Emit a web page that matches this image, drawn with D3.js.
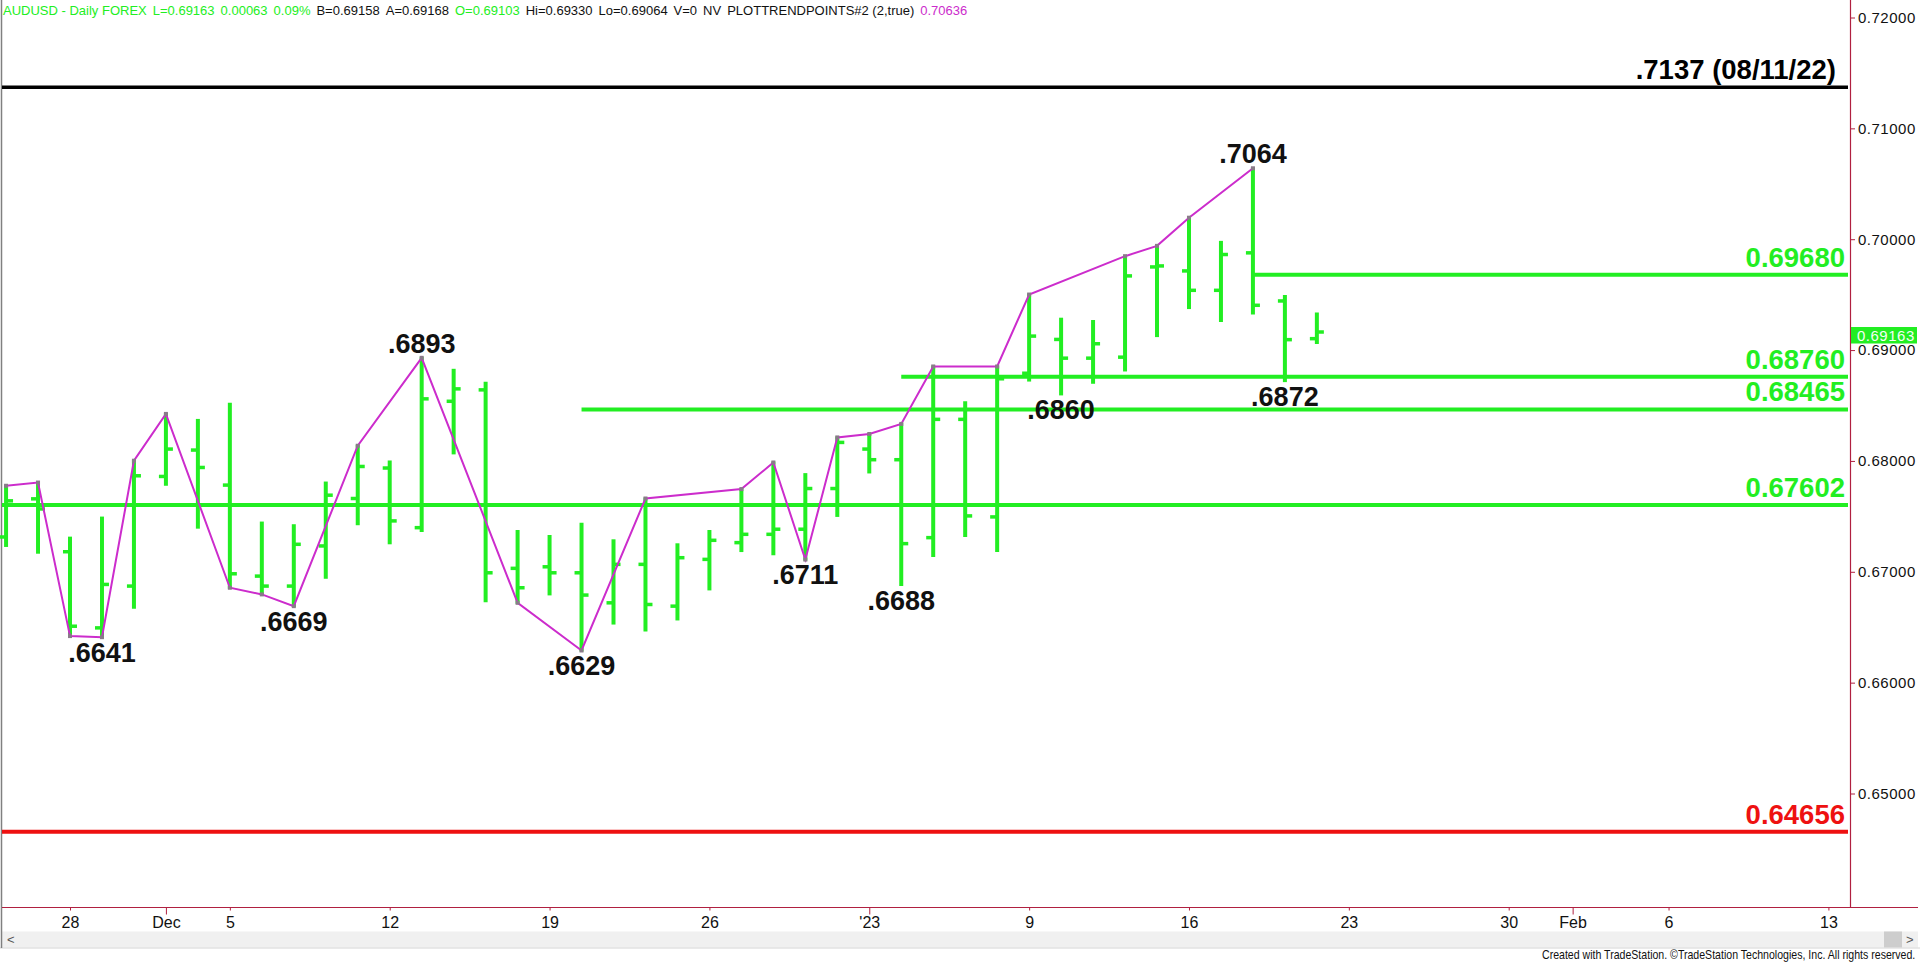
<!DOCTYPE html>
<html><head><meta charset="utf-8">
<script src="https://cdn.jsdelivr.net/npm/d3@7"></script>
<style>
html,body{margin:0;padding:0;background:#fff;overflow:hidden;}
svg{display:block;}
</style></head><body>
<svg id="chart" width="1920" height="963"></svg>
<script>
// ---------------- data ----------------
const barDates = ["2022-11-24","2022-11-25","2022-11-28","2022-11-29","2022-11-30","2022-12-01","2022-12-02",
  "2022-12-05","2022-12-06","2022-12-07","2022-12-08","2022-12-09","2022-12-12","2022-12-13","2022-12-14",
  "2022-12-15","2022-12-16","2022-12-19","2022-12-20","2022-12-21","2022-12-22","2022-12-23","2022-12-26",
  "2022-12-27","2022-12-28","2022-12-29","2022-12-30","2023-01-02","2023-01-03","2023-01-04","2023-01-05",
  "2023-01-06","2023-01-09","2023-01-10","2023-01-11","2023-01-12","2023-01-13","2023-01-16","2023-01-17",
  "2023-01-18","2023-01-19","2023-01-20"];
const opens = [0.67314,0.67658,0.67181,0.66494,0.66871,0.67860,0.68098,0.67782,0.66961,0.66871,0.67233,0.67661,
  0.67936,0.67398,0.68538,0.68641,0.67031,0.67045,0.66991,0.66720,0.67067,0.66690,0.67112,0.67263,0.67338,
  0.67384,0.67751,0.68107,0.68011,0.67308,0.68375,0.67495,0.68791,0.69096,0.68927,0.68936,0.69750,0.69714,
  0.69539,0.69877,0.69443,0.69103];
const highs = [0.67776,0.67805,0.67308,0.67489,0.68002,0.68424,0.68370,0.68515,0.67444,0.67420,0.67805,0.68137,
  0.67995,0.68930,0.68822,0.68705,0.67368,0.67323,0.67434,0.67284,0.67661,0.67248,0.67368,0.67746,0.67986,
  0.67881,0.68212,0.68243,0.68334,0.68852,0.68529,0.68852,0.69501,0.69283,0.69262,0.69847,0.69940,0.70194,
  0.69976,0.70640,0.69488,0.69330];
const lows = [0.67233,0.67172,0.66420,0.66410,0.66675,0.67785,0.67398,0.66856,0.66796,0.66690,0.66946,0.67429,
  0.67257,0.67368,0.68068,0.66735,0.66720,0.66796,0.66290,0.66533,0.66470,0.66570,0.66841,0.67187,0.67158,
  0.67110,0.67504,0.67896,0.66880,0.67142,0.67323,0.67187,0.68725,0.68600,0.68705,0.68816,0.69126,0.69379,
  0.69262,0.69329,0.68720,0.69064];
const closes = [0.67640,0.67567,0.66509,0.66886,0.67866,0.68107,0.67941,0.66982,0.66871,0.67248,0.67691,0.67950,
  0.67459,0.68560,0.68650,0.66991,0.66856,0.66991,0.66790,0.67067,0.66705,0.67127,0.67284,0.67338,0.67384,
  0.67751,0.68167,0.68011,0.67254,0.68375,0.67504,0.68741,0.69126,0.68927,0.69057,0.69669,0.69759,0.69539,
  0.69862,0.69404,0.69094,0.69163];

// trend-point (zigzag) vertices: date + which extreme of the bar
const zigDates = ["2022-11-24","2022-11-25","2022-11-28","2022-11-29","2022-11-30","2022-12-01","2022-12-05",
  "2022-12-06","2022-12-07","2022-12-09","2022-12-13","2022-12-16","2022-12-20","2022-12-22","2022-12-27",
  "2022-12-28","2022-12-29","2022-12-30","2023-01-02","2023-01-03","2023-01-04","2023-01-06","2023-01-09",
  "2023-01-12","2023-01-13","2023-01-16","2023-01-18"];
const zigSides = ["H","H","L","L","H","H","L","L","L","H","H","L","L","H","H","H","L","H","H","H","H","H","H",
  "H","H","H","H"];

// pivot annotations
const pivotTexts = [".6641",".6669",".6893",".6629",".6711",".6688",".6860",".7064",".6872"];
const pivotDates = ["2022-11-29","2022-12-07","2022-12-13","2022-12-20","2022-12-29","2023-01-03","2023-01-10",
  "2023-01-18","2023-01-19"];
const pivotSides = ["L","L","H","L","L","L","L","H","L"];

// horizontal levels
const levelValues = [0.7137, 0.69680, 0.68760, 0.68465, 0.67602, 0.64656];
const levelLabels = [".7137 (08/11/22)", "0.69680", "0.68760", "0.68465", "0.67602", "0.64656"];
const levelStartDates = [null, "2023-01-18", "2023-01-03", "2022-12-20", null, null];

// axes
const priceTicks = [0.65, 0.66, 0.67, 0.68, 0.69, 0.70, 0.71, 0.72];
const dateTickDates = ["2022-11-28","2022-12-01","2022-12-05","2022-12-12","2022-12-19","2022-12-26","2023-01-02",
  "2023-01-09","2023-01-16","2023-01-23","2023-01-30","2023-02-01","2023-02-06","2023-02-13"];
const dateTickLabels = ["28","Dec","5","12","19","26","'23","9","16","23","30","Feb","6","13"];
const lastPrice = 0.69163;

// header items
const headerTexts = ["AUDUSD - Daily FOREX","L=0.69163","0.00063","0.09%","B=0.69158","A=0.69168","O=0.69103",
  "Hi=0.69330","Lo=0.69064","V=0","NV","PLOTTRENDPOINTS#2 (2,true)","0.70636"];

// ---------------- drawing ----------------
const GREEN = "#22ee22", MAG = "#cc2ccc", AXIS = "#b02040";
const svg = d3.select("#chart");
const fmt = d3.timeFormat("%Y-%m-%d");
const days = d3.timeDay.range(new Date(2022,10,24), new Date(2023,1,16)).filter(d => d.getDay() % 6 !== 0).map(fmt);
const idx = s => days.indexOf(s);

const x = d3.scaleLinear().domain([idx("2022-11-28"), idx("2023-02-13")]).range([70, 1828.4]);
const y = d3.scaleLinear().domain([0.65, 0.72]).range([793.5, 17.5]);
const X = s => x(idx(s));

const bars = barDates.map((d, i) => ({d, o: opens[i], h: highs[i], l: lows[i], c: closes[i]}));

// frame pieces (scrollbar, borders)
svg.append("rect").attr("x", 2).attr("y", 931.5).attr("width", 1916).attr("height", 16).attr("fill", "#f0f0f0");
svg.append("rect").attr("x", 1884).attr("y", 931.5).attr("width", 18).attr("height", 16).attr("fill", "#cdcdcd");
svg.append("line").attr("x1", 0).attr("x2", 1920).attr("y1", 948).attr("y2", 948).attr("stroke", "#d4d4d4");
svg.append("text").attr("x", 7).attr("y", 944).attr("font-family", "Liberation Sans, Arial, sans-serif")
  .attr("font-size", 13).attr("fill", "#555").text("<");
svg.append("text").attr("x", 1906).attr("y", 944).attr("font-family", "Liberation Sans, Arial, sans-serif")
  .attr("font-size", 13).attr("fill", "#555").text(">");
svg.append("line").attr("x1", 1.5).attr("x2", 1.5).attr("y1", 0).attr("y2", 948).attr("stroke", "#808080").attr("stroke-width", 1.5);

// level lines
const levelColor = i => i === 0 ? "#000" : (i === levelValues.length - 1 ? "#ee1111" : GREEN);
const lv = svg.append("g");
levelValues.forEach((v, i) => {
  const x0 = levelStartDates[i] ? X(levelStartDates[i]) : 2;
  lv.append("line").attr("x1", x0).attr("x2", 1848).attr("y1", y(v)).attr("y2", y(v))
    .attr("stroke", levelColor(i)).attr("stroke-width", i === 0 ? 3.5 : 4);
  lv.append("text").attr("x", i === 0 ? 1836 : 1845).attr("y", y(v) - 8).attr("text-anchor", "end")
    .attr("font-family", "Liberation Sans, Arial, sans-serif").attr("font-weight", "bold")
    .attr("font-size", 27.5).attr("fill", levelColor(i)).text(levelLabels[i]);
});

// OHLC bars
const bg = svg.append("g").attr("stroke", GREEN);
bg.selectAll("line.hl").data(bars).join("line").attr("class", "hl")
  .attr("x1", d => X(d.d)).attr("x2", d => X(d.d)).attr("y1", d => y(d.h) - 1).attr("y2", d => y(d.l) + 1)
  .attr("stroke-width", 4);
bg.selectAll("line.op").data(bars).join("line").attr("class", "op")
  .attr("x1", d => X(d.d) - 7).attr("x2", d => X(d.d)).attr("y1", d => y(d.o)).attr("y2", d => y(d.o))
  .attr("stroke-width", 3.5);
bg.selectAll("line.cl").data(bars).join("line").attr("class", "cl")
  .attr("x1", d => X(d.d)).attr("x2", d => X(d.d) + 7).attr("y1", d => y(d.c)).attr("y2", d => y(d.c))
  .attr("stroke-width", 3.5);

// zigzag
const zig = zigDates.map((d, i) => {
  const k = barDates.indexOf(d);
  return {d, p: zigSides[i] === "H" ? highs[k] : lows[k]};
});
svg.append("path").datum(zig)
  .attr("d", d3.line().x(d => X(d.d)).y(d => y(d.p)))
  .attr("fill", "none").attr("stroke", MAG).attr("stroke-width", 2);
svg.append("g").selectAll("rect").data(zig).join("rect")
  .attr("x", d => X(d.d) - 2).attr("y", d => y(d.p) - 2).attr("width", 4).attr("height", 4).attr("fill", "#8a7a8a");

// pivot labels
pivotTexts.forEach((t, i) => {
  const k = barDates.indexOf(pivotDates[i]);
  const yy = pivotSides[i] === "H" ? y(highs[k]) - 5 : y(lows[k]) + 24.5;
  svg.append("text").attr("x", X(pivotDates[i])).attr("y", yy).attr("text-anchor", "middle")
    .attr("font-family", "Liberation Sans, Arial, sans-serif").attr("font-weight", "bold")
    .attr("font-size", 27).attr("fill", "#111").text(t);
});

// right price axis
const ya = svg.append("g").attr("transform", "translate(1851,0)")
  .call(d3.axisRight(y).tickValues(priceTicks).tickSize(4).tickPadding(3).tickFormat(d3.format(".5f")));
ya.select(".domain").remove();
ya.selectAll("line").attr("stroke", AXIS);
ya.selectAll("text").attr("font-family", "Liberation Sans, Arial, sans-serif").attr("font-size", 15)
  .attr("letter-spacing", 0.5).attr("fill", "#111");
svg.append("line").attr("x1", 1850.5).attr("x2", 1850.5).attr("y1", 0).attr("y2", 907.5)
  .attr("stroke", AXIS).attr("stroke-width", 1.2);

// last price marker
const yc = y(lastPrice);
svg.append("rect").attr("x", 1851).attr("y", yc - 5).attr("width", 66).attr("height", 16.5).attr("fill", GREEN);
svg.append("text").attr("x", 1857).attr("y", yc + 3.5).attr("dy", "0.35em")
  .attr("font-family", "Liberation Sans, Arial, sans-serif").attr("font-size", 15).attr("letter-spacing", 0.5)
  .attr("fill", "#f4fff4").text(d3.format(".5f")(lastPrice));

// bottom date axis
const xa = svg.append("g").attr("transform", "translate(0,907.5)")
  .call(d3.axisBottom(x).tickValues(dateTickDates.map(idx)).tickSize(3).tickPadding(6)
    .tickFormat((d, i) => dateTickLabels[i]));
xa.select(".domain").remove();
xa.selectAll("line").attr("stroke", AXIS);
xa.selectAll(".tick").filter((d, i) => isNaN(+dateTickLabels[i])).select("line").attr("y2", 7);
xa.selectAll("text").attr("font-family", "Liberation Sans, Arial, sans-serif").attr("font-size", 16).attr("fill", "#111");
svg.append("line").attr("x1", 2).attr("x2", 1918).attr("y1", 907.5).attr("y2", 907.5)
  .attr("stroke", AXIS).attr("stroke-width", 1.2);

// header (flowing tspans)
const headerColor = i => (i <= 3 || i === 6) ? GREEN : (i === headerTexts.length - 1 ? MAG : "#111");
const ht = svg.append("text").attr("x", 3).attr("y", 15)
  .attr("font-family", "Liberation Sans, Arial, sans-serif").attr("font-size", 13);
headerTexts.forEach((t, i) => {
  ht.append("tspan").attr("dx", i === 0 ? 0 : 6).attr("fill", headerColor(i)).text(t);
});

// footer: condensed horizontally with a scale transform to fit its slot
const foot = svg.append("text").attr("x", 0).attr("y", 0)
  .attr("font-family", "Liberation Sans, Arial, sans-serif").attr("font-size", 12).attr("fill", "#111")
  .text("Created with TradeStation. \u00A9TradeStation Technologies, Inc. All rights reserved.");
const fw = foot.node().getComputedTextLength();
const footW = 374;
foot.attr("transform", `translate(${1916 - footW},958.5) scale(${footW / fw},1)`);
</script>
</body></html>
